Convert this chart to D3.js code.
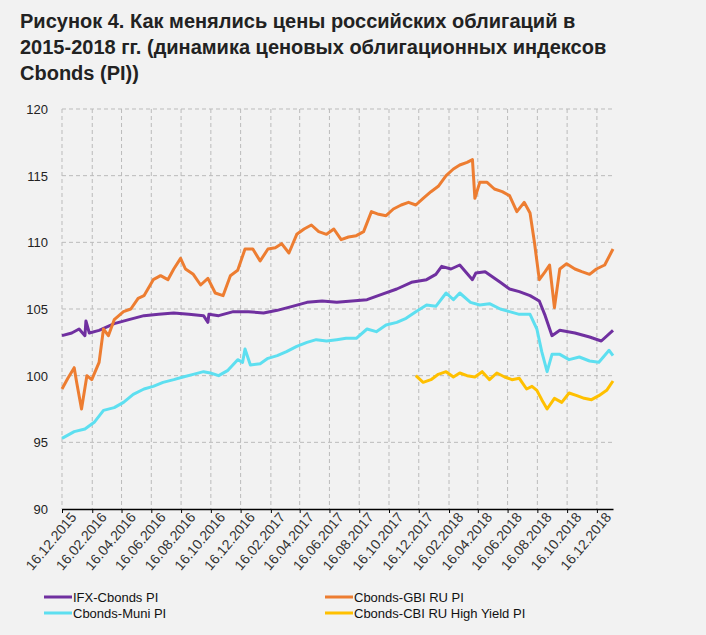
<!DOCTYPE html>
<html><head><meta charset="utf-8">
<script src="https://cdn.jsdelivr.net/npm/d3@7"></script>
<style>body{margin:0;background:#f2f2f2;font-family:"Liberation Sans",Arial,sans-serif}</style>
</head><body><div id="plot"></div>
<script>
var titleLines = ["Рисунок 4. Как менялись цены российских облигаций в",
  "2015-2018 гг. (динамика ценовых облигационных индексов",
  "Cbonds (PI))"];
var tickDates = ["2015-12-16","2016-02-16","2016-04-16","2016-06-16","2016-08-16","2016-10-16","2016-12-16",
  "2017-02-16","2017-04-16","2017-06-16","2017-08-16","2017-10-16","2017-12-16",
  "2018-02-16","2018-04-16","2018-06-16","2018-08-16","2018-10-16","2018-12-16"];
var yTicks = [90, 95, 100, 105, 110, 115, 120];

var ifxDates = ["2015-12-16","2016-01-05","2016-01-20","2016-02-01","2016-02-03","2016-02-10","2016-03-01","2016-04-01","2016-05-01","2016-06-01","2016-07-01","2016-08-01","2016-09-01","2016-10-01","2016-10-10","2016-10-12","2016-11-01","2016-12-01","2017-01-01","2017-02-01","2017-03-01","2017-04-01","2017-05-01","2017-06-01","2017-07-01","2017-08-01","2017-09-01","2017-10-01","2017-11-01","2017-12-01","2018-01-01","2018-01-20","2018-02-01","2018-02-20","2018-03-10","2018-04-05","2018-04-12","2018-05-01","2018-06-01","2018-06-20","2018-07-10","2018-08-01","2018-08-20","2018-09-01","2018-09-15","2018-10-01","2018-11-01","2018-12-01","2018-12-25","2019-01-18"];
var ifxValues = [103.0,103.2,103.5,103.0,104.1,103.2,103.4,103.9,104.2,104.5,104.6,104.7,104.6,104.5,104.0,104.6,104.5,104.8,104.8,104.7,104.9,105.2,105.5,105.6,105.5,105.6,105.7,106.1,106.5,107.0,107.2,107.6,108.2,108.0,108.3,107.2,107.7,107.8,107.0,106.5,106.3,106.0,105.6,104.5,103.0,103.4,103.2,102.9,102.6,103.4];

var gbiDates = ["2015-12-16","2015-12-28","2016-01-10","2016-01-15","2016-01-25","2016-02-05","2016-02-15","2016-03-01","2016-03-10","2016-03-20","2016-04-01","2016-04-20","2016-05-05","2016-05-20","2016-06-01","2016-06-20","2016-07-05","2016-07-20","2016-08-01","2016-08-15","2016-08-25","2016-09-10","2016-09-25","2016-10-10","2016-10-25","2016-11-10","2016-11-25","2016-12-10","2016-12-25","2017-01-10","2017-01-25","2017-02-10","2017-02-25","2017-03-10","2017-03-25","2017-04-10","2017-04-25","2017-05-10","2017-05-25","2017-06-10","2017-06-25","2017-07-10","2017-07-25","2017-08-10","2017-08-25","2017-09-10","2017-09-25","2017-10-10","2017-10-25","2017-11-10","2017-11-25","2017-12-10","2017-12-25","2018-01-10","2018-01-25","2018-02-10","2018-02-25","2018-03-10","2018-03-25","2018-04-05","2018-04-10","2018-04-20","2018-05-05","2018-05-20","2018-06-05","2018-06-20","2018-07-05","2018-07-20","2018-08-01","2018-08-10","2018-08-20","2018-09-01","2018-09-10","2018-09-20","2018-10-01","2018-10-15","2018-11-01","2018-11-15","2018-12-01","2018-12-15","2019-01-01","2019-01-18"];
var gbiValues = [99.0,99.8,100.6,99.5,97.5,100.0,99.7,101.0,103.5,103.0,104.2,104.8,105.0,105.8,106.0,107.2,107.5,107.2,108.0,108.8,108.0,107.6,106.8,107.3,106.2,106.0,107.5,107.9,109.5,109.5,108.6,109.5,109.6,109.9,109.2,110.6,111.0,111.3,110.8,110.6,111.0,110.2,110.4,110.5,110.8,112.3,112.1,112.0,112.5,112.8,113.0,112.8,113.3,113.8,114.2,115.0,115.5,115.8,116.0,116.2,113.3,114.5,114.5,114.0,113.8,113.5,112.3,113.0,112.2,110.0,107.2,107.8,108.3,105.1,108.0,108.4,108.0,107.8,107.6,108.0,108.3,109.5];

var muniDates = ["2015-12-16","2016-01-10","2016-02-01","2016-02-20","2016-03-10","2016-04-01","2016-04-20","2016-05-10","2016-06-01","2016-06-20","2016-07-10","2016-08-01","2016-08-20","2016-09-10","2016-10-01","2016-10-15","2016-11-01","2016-11-20","2016-12-10","2016-12-20","2016-12-25","2017-01-05","2017-01-25","2017-02-10","2017-03-01","2017-03-20","2017-04-10","2017-05-01","2017-05-20","2017-06-10","2017-07-01","2017-07-20","2017-08-10","2017-09-01","2017-09-20","2017-10-10","2017-11-01","2017-11-20","2017-12-10","2018-01-01","2018-01-20","2018-02-10","2018-02-25","2018-03-10","2018-04-01","2018-04-20","2018-05-10","2018-06-01","2018-06-20","2018-07-10","2018-08-01","2018-08-15","2018-08-25","2018-09-05","2018-09-15","2018-10-01","2018-10-20","2018-11-10","2018-12-01","2018-12-20","2019-01-10","2019-01-18"];
var muniValues = [95.3,95.8,96.0,96.5,97.4,97.6,98.0,98.6,99.0,99.2,99.5,99.7,99.9,100.1,100.3,100.2,100.0,100.4,101.2,101.0,102.0,100.8,100.9,101.3,101.5,101.8,102.2,102.5,102.7,102.6,102.7,102.8,102.8,103.5,103.3,103.8,104.0,104.3,104.8,105.3,105.2,106.2,105.7,106.2,105.5,105.3,105.4,105.0,104.8,104.6,104.6,103.5,101.8,100.3,101.6,101.6,101.2,101.4,101.1,101.0,101.9,101.5];

var hyDates = ["2017-12-10","2017-12-25","2018-01-10","2018-01-25","2018-02-10","2018-02-25","2018-03-10","2018-03-25","2018-04-10","2018-04-25","2018-05-10","2018-05-25","2018-06-10","2018-06-25","2018-07-10","2018-07-25","2018-08-05","2018-08-15","2018-08-25","2018-09-05","2018-09-20","2018-10-05","2018-10-20","2018-11-05","2018-11-20","2018-12-05","2018-12-20","2019-01-05","2019-01-18"];
var hyValues = [100.0,99.5,99.7,100.1,100.3,99.9,100.2,100.0,99.9,100.3,99.7,100.2,99.9,99.7,99.8,99.0,99.2,98.9,98.2,97.5,98.3,98.0,98.7,98.5,98.3,98.2,98.5,98.9,99.6];

var series = [
  {name: "IFX-Cbonds PI", color: "#7030a0", dates: ifxDates, values: ifxValues},
  {name: "Cbonds-GBI RU PI", color: "#ed7d31", dates: gbiDates, values: gbiValues},
  {name: "Cbonds-Muni PI", color: "#5ddff0", dates: muniDates, values: muniValues},
  {name: "Cbonds-CBI RU High Yield PI", color: "#ffc000", dates: hyDates, values: hyValues}
];

var parseTime = d3.timeParse("%Y-%m-%d");
var fmt = d3.timeFormat("%d.%m.%Y");

var svg = d3.select("div#plot").append("svg").attr("width", 706).attr("height", 635);
svg.append("rect").attr("width", 706).attr("height", 635).attr("fill", "#f2f2f2");

svg.selectAll("text.title").data(titleLines).enter().append("text")
  .attr("x", 20).attr("y", (d, i) => 28 + i * 26)
  .style("font-size", "20px").style("font-weight", "bold").attr("fill", "#222")
  .text(d => d);

var xScale = d3.scaleTime().domain([parseTime("2015-12-16"), parseTime("2019-01-18")]).range([62, 613]);
var yScale = d3.scaleLinear().domain([90, 120]).range([509, 109]);

// grid
svg.append("g").selectAll("line").data(yTicks.slice(1)).enter().append("line")
  .attr("x1", 62).attr("x2", 613).attr("y1", d => yScale(d)).attr("y2", d => yScale(d))
  .attr("stroke", "#bbb").attr("stroke-dasharray", "4,3");
svg.append("g").selectAll("line").data(tickDates).enter().append("line")
  .attr("x1", d => xScale(parseTime(d))).attr("x2", d => xScale(parseTime(d)))
  .attr("y1", 109).attr("y2", 509)
  .attr("stroke", "#bbb").attr("stroke-dasharray", "4,3");

svg.selectAll("text.ylab").data(yTicks).enter().append("text")
  .attr("x", 48).attr("y", d => yScale(d) + 5).attr("text-anchor", "end")
  .style("font-size", "13px").attr("fill", "#222").text(d => d);

var xAxis = svg.append("g").attr("transform", "translate(0,509)")
  .call(d3.axisBottom(xScale).tickValues(tickDates.map(parseTime)).tickFormat(fmt).tickSize(4).tickSizeOuter(0));
xAxis.select(".domain").attr("stroke", "#000").attr("stroke-width", 1.5);
xAxis.selectAll("text").attr("transform", "rotate(-50)").attr("text-anchor", "end")
  .attr("dx", "0.2em").attr("dy", "0.7em").style("font-size", "14px").attr("fill", "#333")
  .style("font-family", "Liberation Sans, Arial, sans-serif");

var line = d3.line().x(d => xScale(d[0])).y(d => yScale(d[1]));
series.forEach(function(s) {
  var pts = s.dates.map((d, i) => [parseTime(d), s.values[i]]);
  svg.append("path").datum(pts).attr("fill", "none").attr("stroke", s.color)
    .attr("stroke-width", 3).attr("stroke-linejoin", "round").attr("d", line);
});

// legend
var leg = svg.selectAll("g.leg").data(series).enter().append("g")
  .attr("transform", (d, i) => `translate(${i % 2 ? 325 : 44},${i < 2 ? 597 : 613})`);
leg.append("line").attr("x1", 0).attr("x2", 28).attr("stroke", d => d.color).attr("stroke-width", 3);
leg.append("text").attr("x", 29).attr("y", 5).style("font-size", "13px").attr("fill", "#111").text(d => d.name);
</script></body></html>
